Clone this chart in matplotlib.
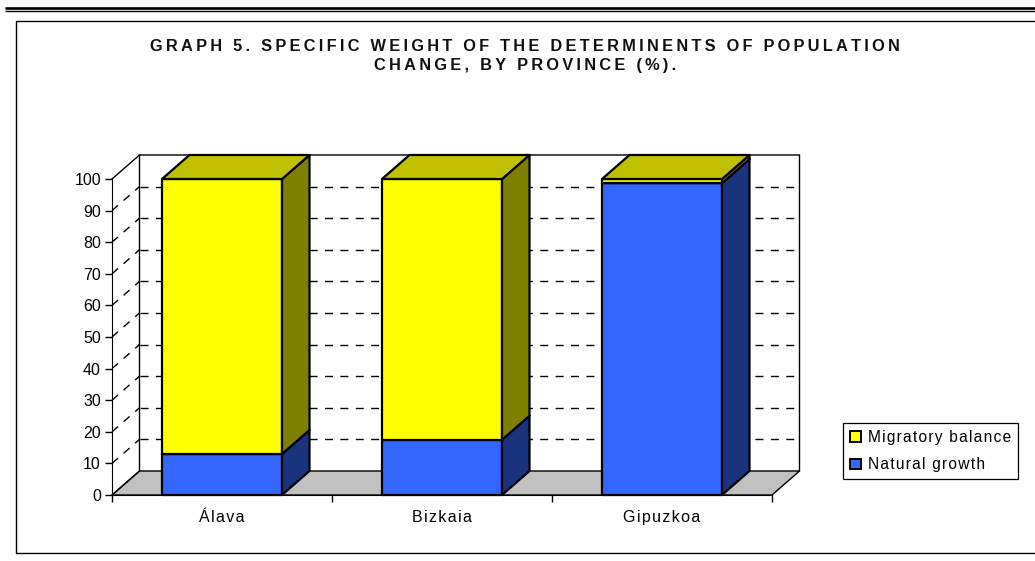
import matplotlib
matplotlib.use('Agg')
import matplotlib.pyplot as plt
from matplotlib.patches import Patch

plt.rcParams['font.family'] = ['Liberation Sans', 'DejaVu Sans']

#data
provinces = ['Álava', 'Bizkaia', 'Gipuzkoa']
natural_growth = [13, 17.5, 98.7]
migratory_balance = [87, 82.5, 1.3]
y_ticks = [0, 10, 20, 30, 40, 50, 60, 70, 80, 90, 100]
title_lines = ['GRAPH 5. SPECIFIC WEIGHT OF THE DETERMINENTS OF POPULATION',
               'CHANGE, BY PROVINCE (%).']
legend_labels = ['Migratory balance', 'Natural growth']

W, H = 1035, 561
fig = plt.figure(figsize=(W/100, H/100), dpi=100, facecolor='white')


def spaced(s, gap='\u200a'):
    return gap.join(s)


#page rules and chart frame, in pixels
bg = fig.add_axes([0, 0, 1, 1])
bg.set_xlim(0, W)
bg.set_ylim(H, 0)
bg.axis('off')
bg.plot([5, W], [7.7, 7.7], color='black', lw=1.9, solid_capstyle='butt')
bg.plot([5, W], [11, 11], color='black', lw=1, solid_capstyle='butt')
bg.plot([W, 16, 16, W], [21, 21, 553, 553], color='black', lw=1)

#plot axes, front plane goes from x=112 to 772 and y=495 to 179
ax = fig.add_axes([112/W, 1-495/H, 660/W, 316/H])
ax.set_xlim(0, 3)
ax.set_ylim(0, 100)
ax.patch.set_visible(False)
for s in ['top', 'right']:
    ax.spines[s].set_visible(False)

dx = 0.125  #depth of the 3d box
dy = 7.6
lw = 1.0
dash = (0, (5.76, 5.31))

#floor and walls
ax.fill([0, 3, 3+dx, dx], [0, 0, dy, dy], facecolor='#C0C0C0', edgecolor='black', lw=lw, clip_on=False, zorder=1)
ax.plot([0, dx, dx], [0, dy, 100+dy], color='black', lw=lw, clip_on=False, zorder=1)
ax.plot([0, dx, 3+dx, 3+dx], [100, 100+dy, 100+dy, dy], color='black', lw=lw, clip_on=False, zorder=1)

#dashed grid
for v in y_ticks[1:-1]:
    ax.plot([dx, 3+dx], [v+dy, v+dy], color='black', lw=1, ls=dash, clip_on=False, zorder=1.5)
    ax.plot([0, dx], [v, v+dy], color='black', lw=1, ls=dash, clip_on=False, zorder=1.5)


def box(x0, x1, y0, y1, front, side, top):
    ec = dict(edgecolor='black', lw=1.6, joinstyle='round', clip_on=False, zorder=3)
    ax.fill([x0, x1, x1, x0], [y0, y0, y1, y1], facecolor=front, **ec)
    ax.fill([x1, x1+dx, x1+dx, x1], [y0, y0+dy, y1+dy, y1], facecolor=side, **ec)
    ax.fill([x0, x1, x1+dx, x0+dx], [y1, y1, y1+dy, y1+dy], facecolor=top, **ec)


#stacked bars
blue = ('#3366FF', '#1A337F', '#2A52CC')
yellow = ('#FFFF00', '#808000', '#C0C000')
for i in range(len(provinces)):
    x0 = i + 50/220
    x1 = i + 170/220
    box(x0, x1, 0, natural_growth[i], *blue)
    box(x0, x1, natural_growth[i], natural_growth[i]+migratory_balance[i], *yellow)

#axis ticks and labels
ax.set_yticks(y_ticks)
ax.tick_params(axis='y', length=5, width=1, pad=3, labelsize=11.5)
ax.set_xticks([0.5, 1.5, 2.5])
ax.set_xticklabels([spaced(p) for p in provinces], fontsize=11.5)
ax.set_xticks([0, 1, 2, 3], minor=True)
ax.tick_params(axis='x', which='major', length=0, pad=11)
ax.tick_params(axis='x', which='minor', length=5, width=1)

#title, letter spaced
for line, y in zip(title_lines, [46, 65]):
    bg.text(525, y, spaced(line, '\u2009'), ha='center', va='center', fontsize=11.8, fontweight='bold', color='#111111')

#legend
handles = [Patch(facecolor='#FFFF00', edgecolor='black', lw=1.4, label=spaced(legend_labels[0])),
           Patch(facecolor='#3366FF', edgecolor='black', lw=1.4, label=spaced(legend_labels[1]))]
bg.legend(handles=handles, loc='upper left', bbox_to_anchor=(843/W, 1-423/H), bbox_transform=fig.transFigure,
          fontsize=11.2, fancybox=False, framealpha=1, edgecolor='black', borderaxespad=0, borderpad=0.45,
          handlelength=0.7, handleheight=0.7, handletextpad=0.45, labelspacing=0.8).get_frame().set_linewidth(0.9)

fig.savefig('out.png', dpi=100)
